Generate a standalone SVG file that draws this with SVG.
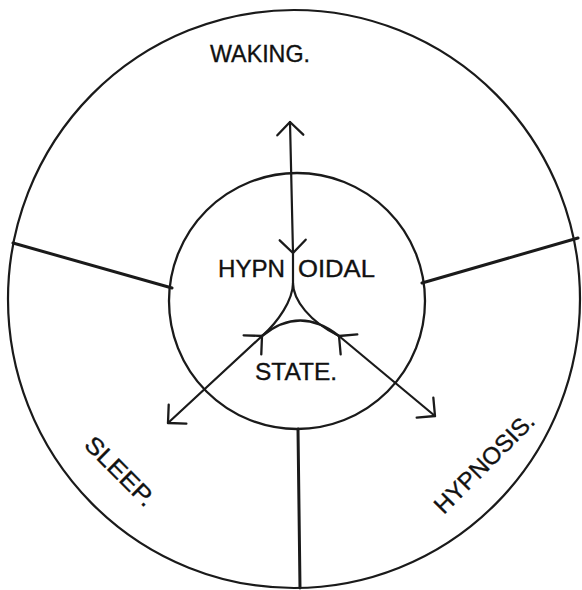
<svg xmlns="http://www.w3.org/2000/svg" width="582" height="590" viewBox="0 0 582 590">
<style>
.ln{fill:none;stroke:#1a1a1a;stroke-linecap:round;stroke-linejoin:round}
.t{font-family:"Liberation Sans",Arial,Helvetica,sans-serif;font-size:24px;fill:#111;stroke:#111;stroke-width:0.35}
</style>
<defs>
<marker id="ah" markerUnits="userSpaceOnUse" markerWidth="30" markerHeight="30" refX="0" refY="0" orient="auto-start-reverse" overflow="visible">
<path d="M -13 -13 L 0 0 L -13 13" fill="none" stroke="#1a1a1a" stroke-width="2.3" stroke-linecap="round" stroke-linejoin="round"/>
</marker>
</defs>
<rect width="582" height="590" fill="#fff"/>
<g id="outer-circle">
<ellipse class="ln" cx="294" cy="299" rx="286" ry="289" stroke-width="2.2"/>
</g>
<g id="dividers">
<line class="ln" x1="13" y1="243" x2="172" y2="288" stroke-width="3"/>
<line class="ln" x1="422" y1="283" x2="578" y2="238" stroke-width="3"/>
<line class="ln" x1="298" y1="429" x2="300" y2="588" stroke-width="3"/>
</g>
<g id="inner-circle">
<circle class="ln" cx="297" cy="301" r="128" stroke-width="2.3"/>
</g>
<g id="waking"><text class="t" x="260" y="62" font-size="25" text-anchor="middle" textLength="100" lengthAdjust="spacingAndGlyphs">WAKING.</text></g>
<g id="hypnoidal-state">
<text class="t" x="218" y="277" textLength="67" lengthAdjust="spacingAndGlyphs">HYPN</text>
<text class="t" x="298" y="277" textLength="77" lengthAdjust="spacingAndGlyphs">OIDAL</text>
<text class="t" x="255" y="380" textLength="82" lengthAdjust="spacingAndGlyphs">STATE.</text>
</g>
<g id="sleep"><text class="t" transform="translate(114 477) rotate(45)" text-anchor="middle" textLength="88" lengthAdjust="spacingAndGlyphs">SLEEP.</text></g>
<g id="hypnosis"><text class="t" transform="translate(490 469) rotate(-45)" text-anchor="middle" textLength="131" lengthAdjust="spacingAndGlyphs">HYPNOSIS.</text></g>
<g id="connectors">
<path class="ln" d="M 293 253 L 290 122" stroke-width="2.2" marker-start="url(#ah)" marker-end="url(#ah)"/>
<path class="ln" d="M 293 253 L 293 283" stroke-width="2.2"/>
<path class="ln" d="M 293 283 C 293 300 278 322 262 336" stroke-width="2.2"/>
<path class="ln" d="M 293 283 C 293 300 310 322 339 336" stroke-width="2.2"/>
<path class="ln" d="M 262 336 Q 300 305 339 336" stroke-width="2.4"/>
<path class="ln" d="M 262 336 L 168 423" stroke-width="2.2" marker-start="url(#ah)" marker-end="url(#ah)"/>
<path class="ln" d="M 339 336 L 435 416" stroke-width="2.2" marker-start="url(#ah)" marker-end="url(#ah)"/>
</g>
</svg>
